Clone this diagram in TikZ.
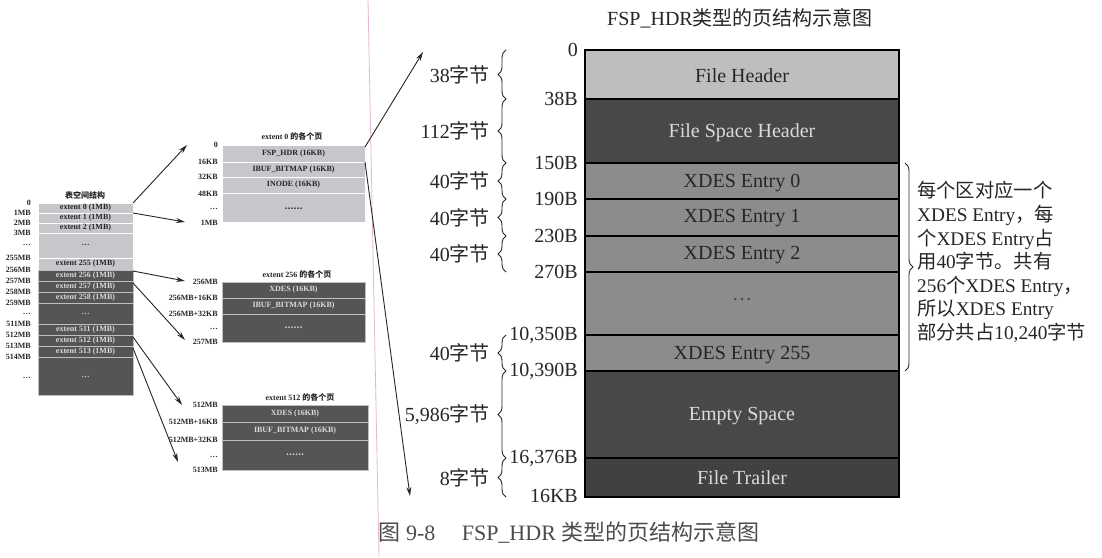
\documentclass[tikz,border=0pt]{standalone}
\usepackage{fontspec}
\setmainfont{Liberation Serif}
\newfontfamily\cjk{Noto Sans CJK SC}
\usetikzlibrary{arrows.meta,decorations.pathreplacing}
\definecolor{ink}{HTML}{262626}
\definecolor{lightrow}{HTML}{BEBEBE}
\definecolor{midrow}{HTML}{8C8C8C}
\definecolor{darkrow}{HTML}{484848}
\definecolor{panellight}{HTML}{C6C7CB}
\definecolor{paneldark}{HTML}{555555}
\definecolor{pinkline}{HTML}{E6B4D4}
\definecolor{paletext}{HTML}{DADADA}
\begin{document}
\begin{tikzpicture}[x=1pt,y=-1pt,
  big/.style={font=\fontsize{20}{22}\selectfont, text=ink, inner sep=0pt},
  lab/.style={big, anchor=east},
  tl/.style={font=\fontsize{8}{9}\selectfont\bfseries, text=ink, inner sep=0pt},
  tlab/.style={tl, anchor=east},
  brc/.style={decorate, decoration={brace, amplitude=8pt}, draw=ink, line width=0.9pt},
  arr/.style={-{Stealth[length=9pt,width=5pt]}, draw=ink, line width=0.9pt},
  mainrow/.style={draw=black, line width=1.3pt},
  lrow/.style={fill=panellight, draw=white, line width=0.7pt},
  drow/.style={fill=paneldark, draw=white!75!black, line width=0.7pt}]
\useasboundingbox (0,0) rectangle (1102,557);
\fill[white] (0,0) rectangle (1102,557);

% scan fold line
\draw[pinkline, line width=0.8pt] (368,0) -- (379,557);

% ---------------- left table ----------------
\node[tl] (ltitle) at (85,195) {{\cjk 表空间结构}};
\path[lrow] (38,203) rectangle (133,213);
\path[lrow] (38,213) rectangle (133,223);
\path[lrow] (38,223) rectangle (133,233);
\path[lrow] (38,233) rectangle (133,258);
\path[lrow] (38,258) rectangle (133,270);
\path[drow] (38,270) rectangle (133,281);
\path[drow] (38,281) rectangle (133,292);
\path[drow] (38,292) rectangle (133,303);
\path[drow] (38,303) rectangle (133,324);
\path[drow] (38,324) rectangle (133,335);
\path[drow] (38,335) rectangle (133,346);
\path[drow] (38,346) rectangle (133,357);
\path[drow] (38,357) rectangle (133,395);
\node[tl] (e0) at (85.5,208) {extent 0 (1MB)};
\node[tl] (e1) at (85.5,218) {extent 1 (1MB)};
\node[tl] (e2) at (85.5,228) {extent 2 (1MB)};
\node[tl] (ed1) at (85.5,245) {\ldots};
\node[tl] (e255) at (85.5,264) {extent 255 (1MB)};
\node[tl,text=paletext] (e256) at (85.5,275.5) {extent 256 (1MB)};
\node[tl,text=paletext] (e257) at (85.5,286.5) {extent 257 (1MB)};
\node[tl,text=paletext] (e258) at (85.5,297.5) {extent 258 (1MB)};
\node[tl,text=paletext] (ed2) at (85.5,313.5) {\ldots};
\node[tl,text=paletext] (e511) at (85.5,329.5) {extent 511 (1MB)};
\node[tl,text=paletext] (e512) at (85.5,340.5) {extent 512 (1MB)};
\node[tl,text=paletext] (e513) at (85.5,351.5) {extent 513 (1MB)};
\node[tl,text=paletext] (ed3) at (85.5,377) {\ldots};
\node[tlab] (m0) at (31,203) {0};
\node[tlab] (m1) at (31,213) {1MB};
\node[tlab] (m2) at (31,223) {2MB};
\node[tlab] (m3) at (31,233) {3MB};
\node[tlab] (md1) at (31,245) {\ldots};
\node[tlab] (m255) at (31,258) {255MB};
\node[tlab] (m256) at (31,270) {256MB};
\node[tlab] (m257) at (31,281) {257MB};
\node[tlab] (m258) at (31,292) {258MB};
\node[tlab] (m259) at (31,303) {259MB};
\node[tlab] (md2) at (31,314) {\ldots};
\node[tlab] (m511) at (31,324) {511MB};
\node[tlab] (m512) at (31,335) {512MB};
\node[tlab] (m513) at (31,346) {513MB};
\node[tlab] (m514) at (31,357) {514MB};
\node[tlab] (md3) at (31,378) {\ldots};

% ---------------- middle panels ----------------
\node[tl] (p0t) at (292,136) {extent 0 {\cjk 的各个页}};
\path[lrow] (222,145) rectangle (365,162);
\path[lrow] (222,162) rectangle (365,177);
\path[lrow] (222,177) rectangle (365,193);
\path[lrow] (222,193) rectangle (365,222);
\node[tl] (p0a) at (293.5,153.5) {FSP\_HDR (16KB)};
\node[tl] (p0b) at (293.5,169.5) {IBUF\_BITMAP (16KB)};
\node[tl] (p0c) at (293.5,185) {INODE (16KB)};
\node[tl] (p0d) at (293.5,209) {{\cjk ……}};
\node[tlab] (q0) at (218,145) {0};
\node[tlab] (q1) at (218,162) {16KB};
\node[tlab] (q2) at (218,177) {32KB};
\node[tlab] (q3) at (218,194) {48KB};
\node[tlab] (q4) at (218,209) {\ldots};
\node[tlab] (q5) at (218,223) {1MB};

\node[tl] (p1t) at (297,274) {extent 256 {\cjk 的各个页}};
\path[drow] (222,282) rectangle (365,298);
\path[drow] (222,298) rectangle (365,314);
\path[drow] (222,314) rectangle (365,342);
\node[tl,text=paletext] (p1a) at (293.5,290) {XDES (16KB)};
\node[tl,text=paletext] (p1b) at (293.5,306) {IBUF\_BITMAP (16KB)};
\node[tl,text=paletext] (p1c) at (293.5,328) {{\cjk ……}};
\node[tlab] (r0) at (218,282) {256MB};
\node[tlab] (r1) at (218,298) {256MB+16KB};
\node[tlab] (r2) at (218,314) {256MB+32KB};
\node[tlab] (r3) at (218,329) {\ldots};
\node[tlab] (r4) at (218,342) {257MB};

\node[tl] (p2t) at (300,397) {extent 512 {\cjk 的各个页}};
\path[drow] (222,405) rectangle (368,422);
\path[drow] (222,422) rectangle (368,440);
\path[drow] (222,440) rectangle (368,470);
\node[tl,text=paletext] (p2a) at (295,413.5) {XDES (16KB)};
\node[tl,text=paletext] (p2b) at (295,431) {IBUF\_BITMAP (16KB)};
\node[tl,text=paletext] (p2c) at (295,455) {{\cjk ……}};
\node[tlab] (s0) at (218,405) {512MB};
\node[tlab] (s1) at (218,422) {512MB+16KB};
\node[tlab] (s2) at (218,440) {512MB+32KB};
\node[tlab] (s3) at (218,457) {\ldots};
\node[tlab] (s4) at (218,470) {513MB};

% arrows left -> middle
\coordinate (a1s) at (133,203); \coordinate (a1e) at (187,145);
\coordinate (a2s) at (133,213); \coordinate (a2e) at (185,222);
\coordinate (a3s) at (133,271); \coordinate (a3e) at (185,281);
\coordinate (a4s) at (133,283); \coordinate (a4e) at (185,340);
\coordinate (a5s) at (133,337); \coordinate (a5e) at (182,405);
\coordinate (a6s) at (133,348); \coordinate (a6e) at (178,462);
\draw[arr] (a1s) -- (a1e);
\draw[arr] (a2s) -- (a2e);
\draw[arr] (a3s) -- (a3e);
\draw[arr] (a4s) -- (a4e);
\draw[arr] (a5s) -- (a5e);
\draw[arr] (a6s) -- (a6e);
% arrows middle -> main
\coordinate (b1s) at (365,147); \coordinate (b1e) at (423,52);
\coordinate (b2s) at (365,162); \coordinate (b2e) at (410,496);
\draw[arr] (b1s) -- (b1e);
\draw[arr] (b2s) -- (b2e);

% ---------------- main table ----------------
\node[font=\fontsize{20}{22}\selectfont, text=ink] (title) at (740,18) {FSP\_HDR{\cjk 类型的页结构示意图}};
\path[mainrow, fill=lightrow] (585,50) rectangle (899,99);
\path[mainrow, fill=darkrow] (585,99) rectangle (899,163);
\path[mainrow, fill=midrow] (585,163) rectangle (899,199);
\path[mainrow, fill=midrow] (585,199) rectangle (899,236);
\path[mainrow, fill=midrow] (585,236) rectangle (899,272);
\path[mainrow, fill=midrow] (585,272) rectangle (899,335);
\path[mainrow, fill=midrow] (585,335) rectangle (899,371);
\path[mainrow, fill=darkrow] (585,371) rectangle (899,458);
\path[mainrow, fill=darkrow!90!black] (585,458) rectangle (899,497);
\node[big] (fh) at (742,76) {File Header};
\node[big,text=paletext] (fsh) at (742,133) {File Space Header};
\node[big] (x0) at (742,183) {XDES Entry 0};
\node[big] (x1) at (742,218) {XDES Entry 1};
\node[big] (x2) at (742,255) {XDES Entry 2};
\node[big,text=ink!70!midrow] (xd) at (742,300) {\ldots};
\node[big] (x255) at (742,355) {XDES Entry 255};
\node[big,text=paletext] (es) at (742,416) {Empty Space};
\node[big,text=paletext] (ft) at (742,478) {File Trailer};

% offsets
\node[lab] (o0) at (578,50) {0};
\node[lab] (o1) at (578,99) {38B};
\node[lab] (o2) at (578,163) {150B};
\node[lab] (o3) at (578,199) {190B};
\node[lab] (o4) at (578,236) {230B};
\node[lab] (o5) at (578,272) {270B};
\node[lab] (o6) at (578,335) {10,350B};
\node[lab] (o7) at (578,371) {10,390B};
\node[lab] (o8) at (578,458) {16,376B};
\node[lab] (o9) at (578,496) {16KB};

% braces and sizes
\draw[brc] (506,99) -- (506,50);
\draw[brc] (506,163) -- (506,99);
\draw[brc] (506,199) -- (506,163);
\draw[brc] (506,236) -- (506,199);
\draw[brc] (506,272) -- (506,236);
\draw[brc] (506,371) -- (506,335);
\draw[brc] (506,458) -- (506,371);
\draw[brc] (506,497) -- (506,458);
\node[lab] (z1) at (490,74.5) {38{\cjk 字节}};
\node[lab] (z2) at (490,131) {112{\cjk 字节}};
\node[lab] (z3) at (490,181) {40{\cjk 字节}};
\node[lab] (z4) at (490,217.5) {40{\cjk 字节}};
\node[lab] (z5) at (490,254) {40{\cjk 字节}};
\node[lab] (z6) at (490,353) {40{\cjk 字节}};
\node[lab] (z7) at (490,414.5) {5,986{\cjk 字节}};
\node[lab] (z8) at (490,477.5) {8{\cjk 字节}};

% right brace + note
\draw[brc] (905,163) -- (905,371);
\node[big, anchor=west, align=left, font=\fontsize{19.3}{23.6}\selectfont] (note) at (917,262)
  {{\cjk 每个区对应一个}\\
   XDES Entry{\cjk ，每}\\
   {\cjk 个}XDES Entry{\cjk 占}\\
   {\cjk 用}40{\cjk 字节。共有}\\
   256{\cjk 个}XDES Entry{\cjk ，}\\
   {\cjk 所以}XDES Entry\\
   {\cjk 部分共占}10,240{\cjk 字节}};

% caption
\node[font=\fontsize{22}{24}\selectfont, text=black!70] (cap) at (569,533)
  {{\cjk 图} 9-8\hspace{1.2em}FSP\_HDR {\cjk 类型的页结构示意图}};
\end{tikzpicture}
\end{document}
